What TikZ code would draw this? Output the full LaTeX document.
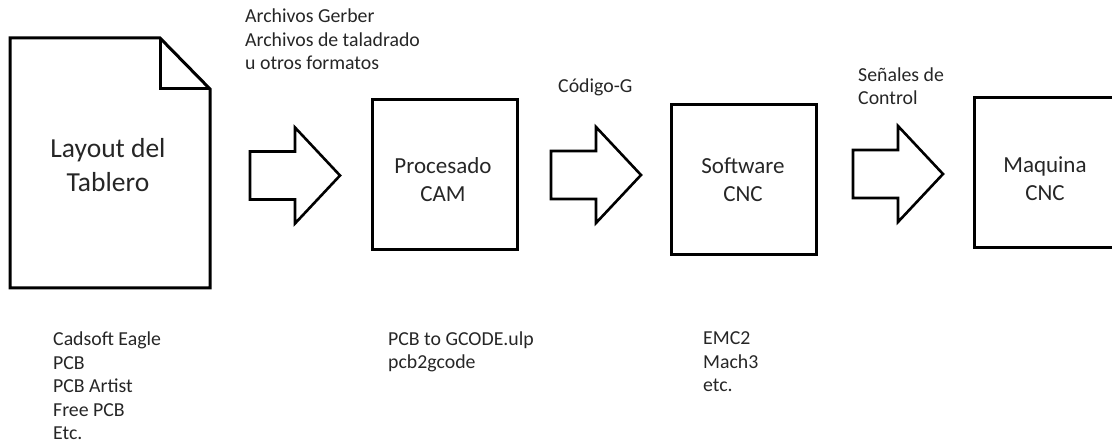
\documentclass[tikz,border=0pt]{standalone}
\usepackage{fontspec}
\setmainfont{Carlito}
\begin{document}
\begin{tikzpicture}[x=1pt,y=-1pt,
  txt/.style={text=black!85, inner sep=0pt},
  small/.style={txt, font=\fontsize{19.8}{23.6}\selectfont, align=left, anchor=base west},
  big/.style={txt, font=\fontsize{27.5}{34}\selectfont, align=center, anchor=base},
  mid/.style={txt, font=\fontsize{23}{28.8}\selectfont, align=center, anchor=base},
  box/.style={draw=black, line width=3pt, inner sep=0pt, anchor=north west, minimum height=150pt},
  arr/.style={draw=black, line width=2.6pt, line join=miter},
  blockarrow/.pic={\draw[arr] (0,-24) -- (45,-24) -- (45,-48) -- (90,0) -- (45,48) -- (45,24) -- (0,24) -- cycle;}
]
\useasboundingbox (0,0) rectangle (1112,443);
% document shape
\coordinate (d1) at (10,38);
\coordinate (d2) at (160,38);
\coordinate (d3) at (210,89);
\coordinate (d4) at (210,288);
\coordinate (d5) at (10,288);
\coordinate (df) at (160,89);
\draw[line width=3pt, line join=miter] (d1) -- (d2) -- (d3) -- (d4) -- (d5) -- cycle;
\draw[line width=3pt, line join=miter] (d2) -- (df) -- (d3);
% (base anchor of a multi-line node = baseline of its last line)
\node[big] (layout) at (108,192) {Layout del\\Tablero};
% boxes
\node[box, minimum width=145pt] (cam) at (371,98) {};
\node[box, minimum width=145pt] (soft) at (670,103) {};
\node[box, minimum width=170pt] (maq) at (973,96) {};
\node[mid] (camt) at (443,202) {Procesado\\CAM};
\node[mid] (softt) at (743,202) {Software\\CNC};
\node[mid] (maqt) at (1045,201) {Maquina\\CNC};
% block arrows
\pic at (250,175.5) {blockarrow};
\pic at (551,175) {blockarrow};
\pic at (853,174) {blockarrow};
% labels
\node[small] (gerber) at (245,70) {Archivos Gerber\\Archivos de taladrado\\u otros formatos};
\node[small] (gcode) at (558,93) {Código-G};
\node[small] (senal) at (858,105) {Señales de\\Control};
\node[small] (cad) at (53,440) {Cadsoft Eagle\\PCB\\PCB Artist\\Free PCB\\Etc.};
\node[small] (pcbg) at (388,369) {PCB to GCODE.ulp\\pcb2gcode};
\node[small] (emc) at (703,392) {EMC2\\Mach3\\etc.};
\end{tikzpicture}
\end{document}
